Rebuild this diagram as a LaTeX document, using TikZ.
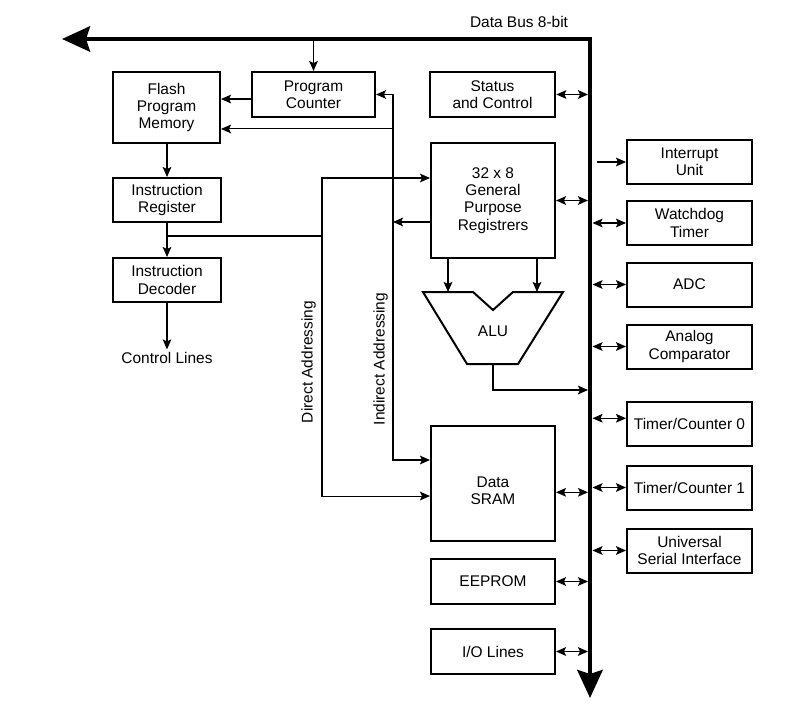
\documentclass[tikz,border=0pt]{standalone}
\usepackage{fontspec}
\setmainfont{Liberation Sans}
\usetikzlibrary{arrows.meta}

\begin{document}
\begin{tikzpicture}[x=0.75pt, y=-0.75pt,
  font=\fontsize{11.6}{13}\selectfont,
  >={Stealth[length=7.5pt,width=6.5pt,inset=1.5pt]},
  blk/.style={draw, line width=1.5pt, align=center, inner sep=0pt},
  periph/.style={blk, minimum width=93.75pt, minimum height=33pt},
  wire/.style={line width=0.8pt},
  bus/.style={line width=3pt, line join=miter,
    arrows={Stealth[length=21pt,width=19pt,inset=3pt]-Stealth[length=21pt,width=19pt,inset=3pt]}}]
\useasboundingbox (0,0) rectangle (792,706);

% blocks
\node[blk, minimum width=80.25pt, minimum height=53.25pt] (flash) at (166.5,107.5) {Flash\\Program\\Memory};
\node[blk, minimum width=92.25pt, minimum height=33.75pt] (pc) at (313.5,94.5) {Program\\Counter};
\node[blk, line width=2pt, minimum width=93.75pt, minimum height=33.75pt] (status) at (492.5,94.5) {Status\\and Control};
\node[blk, minimum width=81pt, minimum height=33pt] (ir) at (167,200) {Instruction\\Register};
\node[blk, minimum width=81pt, minimum height=33pt] (idec) at (167,280) {Instruction\\Decoder};
\node[inner sep=2pt] (ctl) at (167,358) {Control Lines};
\node[blk, minimum width=93pt, minimum height=86.25pt] (gpr) at (493,200.5) {32 x 8\\General\\Purpose\\Registrers};
\node[blk, minimum width=93pt, minimum height=86.25pt,
  label={[name=sramlbl, align=center, yshift=-5.5pt]center:Data\\SRAM}] (sram) at (493,483.5) {};
\node[blk, minimum width=93pt, minimum height=33.75pt] (eeprom) at (493,581.5) {EEPROM};
\node[blk, minimum width=93pt, minimum height=33.75pt] (io) at (493,651.5) {I/O Lines};
\node[periph] (intr) at (689.5,162) {Interrupt\\Unit};
\node[periph] (wdt) at (689.5,223) {Watchdog\\Timer};
\node[periph] (adc) at (689.5,284.5) {ADC};
\node[periph] (acomp) at (689.5,346.5) {Analog\\Comparator};
\node[periph] (tc0) at (689.5,424) {Timer/Counter 0};
\node[periph] (tc1) at (689.5,487.5) {Timer/Counter 1};
\node[periph] (usi) at (689.5,550.5) {Universal\\Serial Interface};

% ALU
\draw[line width=1.5pt, line join=miter] (423,292) -- (473,292) -- (493,310) -- (513,292)
  -- (563,292) -- (518,364) -- (467,364) -- cycle;
\node (alu) at (493,331) {ALU};

\node (buslbl) at (519,22) {Data Bus 8-bit};
\node[rotate=90] (dirlbl) at (308.5,362) {Direct Addressing};
\node[rotate=90] (indlbl) at (380.5,359) {Indirect Addressing};

% lanes
\coordinate (busTL) at (62,39);
\coordinate (busTR) at (590,39);
\coordinate (busB) at (590,698);
\coordinate (busin) at (588,0);
\coordinate (busout) at (592.5,0);
\coordinate (dirlane) at (322,236);
\coordinate (indlane) at (393,0);
\coordinate (aluinA) at (448,292);
\coordinate (aluinB) at (537,292);
\coordinate (aluout) at (493,364);
\coordinate (alubus) at (588,390);
\coordinate (intsrc) at (597,162);
\coordinate (flashB) at ([yshift=-16.1pt]flash.east);
\coordinate (gprA) at ([yshift=-27pt]gpr.north west);
\coordinate (gprB) at ([yshift=-16.1pt]gpr.west);
\coordinate (sramA) at ([yshift=-26.25pt]sram.north west);
\coordinate (sramB) at ([yshift=-9.4pt]sram.west);
\coordinate (sramC) at ([yshift=-6.6pt]sram.east);
\coordinate (tc0w) at ([yshift=4.3pt]tc0.west);

% wires
\draw[wire,->] (pc.north |- busTR) -- (pc.north);
\draw[wire,->] ([yshift=-3.4pt]pc.west) -- ([yshift=-3.4pt]pc.west -| flash.east);
\draw[wire,<->] (pc.east) -| (indlane |- sramA) -- (sramA);
\draw[wire,->] (indlane |- flashB) -- (flashB);
\draw[wire,->] (gprB) -- (indlane |- gprB);
\draw[wire,->] (flash.south -| ir.north) -- (ir.north);
\draw[wire,->] (ir.south) -- (idec.north);
\draw[wire,->] (idec.south) -- (ctl.north);
\draw[wire] (ir.south |- dirlane) -- (dirlane);
\draw[wire,->] (dirlane) |- (gprA);
\draw[wire,->] (dirlane) |- (sramB);
\draw[wire,->] (gpr.south -| aluinA) -- (aluinA);
\draw[wire,->] (gpr.south -| aluinB) -- (aluinB);
\draw[wire,->] (aluout) |- (alubus);
\draw[wire,<->] (status.east) -- (status.east -| busin);
\draw[wire,<->] (gpr.east) -- (gpr.east -| busin);
\draw[wire,<->] (sramC) -- (sramC -| busin);
\draw[wire,<->] (eeprom.east) -- (eeprom.east -| busin);
\draw[wire,<->] (io.east) -- (io.east -| busin);
\draw[wire,->] (intsrc) -- (intr.west);
\foreach \b in {wdt,adc,acomp,tc1,usi}
  \draw[wire,<->] (busout |- \b.west) -- (\b.west);
\draw[wire,<->] (busout |- tc0w) -- (tc0w);

% data bus
\draw[bus] (busTL) -- (busTR) -- (busB);
\end{tikzpicture}
\end{document}
